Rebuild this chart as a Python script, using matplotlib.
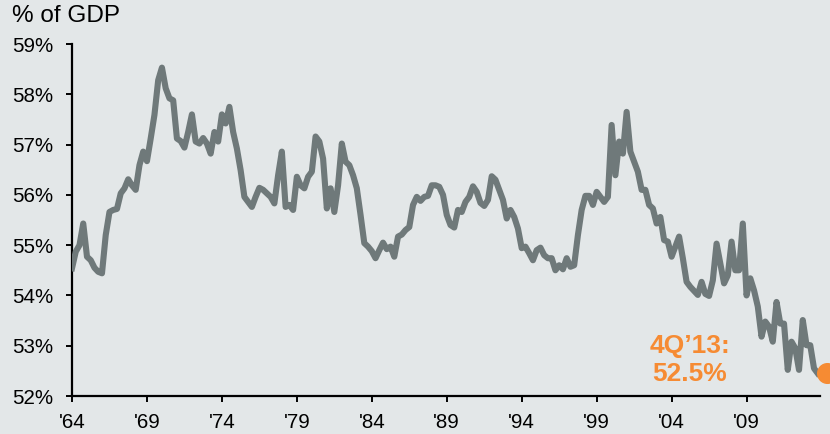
import matplotlib
matplotlib.use("Agg")
import matplotlib.pyplot as plt
import numpy as np

plt.rcParams["font.family"] = ["Liberation Sans", "DejaVu Sans"]

# Government-ish share of GDP, quarterly 1Q64 .. 4Q13
values = [
    54.54, 54.87, 55.00, 55.43,  # 1964
    54.77, 54.70, 54.55, 54.47,
    54.44, 55.20, 55.66, 55.70,
    55.72, 56.03, 56.13, 56.31,
    56.19, 56.10, 56.59, 56.86,
    56.67, 57.12, 57.59, 58.28,  # 1969
    58.53, 58.12, 57.92, 57.88,
    57.12, 57.07, 56.94, 57.25,
    57.60, 57.06, 57.02, 57.13,
    57.02, 56.82, 57.25, 57.06,
    57.60, 57.42, 57.75, 57.25,  # 1974
    56.92, 56.49, 55.96, 55.86,
    55.76, 55.96, 56.14, 56.10,
    56.03, 55.96, 55.83, 56.39,
    56.86, 55.76, 55.80, 55.70,
    56.36, 56.19, 56.13, 56.36,  # 1979
    56.46, 57.16, 57.06, 56.72,
    55.73, 56.13, 55.66, 56.19,
    57.02, 56.66, 56.59, 56.39,
    56.13, 55.60, 55.04, 54.97,
    54.88, 54.74, 54.90, 55.05,  # 1984
    54.92, 54.97, 54.77, 55.17,
    55.21, 55.30, 55.36, 55.80,
    55.96, 55.88, 55.96, 55.98,
    56.19, 56.19, 56.16, 56.00,
    55.60, 55.40, 55.35, 55.70,  # 1989
    55.66, 55.86, 55.96, 56.17,
    56.06, 55.84, 55.78, 55.90,
    56.37, 56.30, 56.10, 55.90,
    55.53, 55.70, 55.56, 55.33,
    54.94, 54.97, 54.84, 54.70,  # 1994
    54.90, 54.95, 54.80, 54.74,
    54.74, 54.50, 54.60, 54.52,
    54.74, 54.57, 54.60, 55.20,
    55.70, 55.98, 55.98, 55.80,
    56.06, 55.96, 55.86, 55.96,  # 1999
    57.39, 56.39, 57.06, 56.82,
    57.65, 56.86, 56.66, 56.46,
    56.10, 56.10, 55.80, 55.73,
    55.43, 55.56, 55.10, 55.07,
    54.77, 54.97, 55.17, 54.74,  # 2004
    54.27, 54.17, 54.09, 54.01,
    54.27, 54.03, 53.99, 54.30,
    55.03, 54.64, 54.24, 54.40,
    55.07, 54.50, 54.50, 55.43,
    54.00, 54.34, 54.10, 53.78,  # 2009
    53.18, 53.48, 53.38, 53.08,
    53.87, 53.44, 53.44, 52.52,
    53.08, 52.95, 52.52, 53.51,
    53.01, 53.01, 52.55, 52.45,
]
dates = 1964 + np.arange(len(values)) / 4

tick_years = [1964, 1969, 1974, 1979, 1984, 1989, 1994, 1999, 2004, 2009]
tick_labels = ["'64", "'69", "'74", "'79", "'84", "'89", "'94", "'99", "'04", "'09"]
y_ticks = [52, 53, 54, 55, 56, 57, 58, 59]

last_label = "4Q\u201913:\n52.5%"

bg = "#e3e7e8"
line_color = "#6f797a"
orange = "#f68b33"

fig = plt.figure(figsize=(8.30, 4.34), dpi=100, facecolor=bg)
ax = fig.add_axes([72 / 830, 1 - 396 / 434, 748 / 830, 352 / 434])
ax.set_facecolor(bg)

ax.plot(dates, values, color=line_color, lw=4.4, solid_joinstyle="round", zorder=3)
ax.scatter(dates[-1] + 0.6, values[-1], s=200, color=orange, zorder=4, clip_on=False)

ax.set_xlim(1964, 2013.9)
ax.set_ylim(52, 59)
ax.set_xticks(tick_years)
ax.set_xticklabels(tick_labels)
ax.set_yticks(y_ticks)
ax.set_yticklabels([f"{v}%" for v in y_ticks])

for side in ["top", "right"]:
    ax.spines[side].set_visible(False)
for side in ["left", "bottom"]:
    ax.spines[side].set_linewidth(1.6)
    ax.spines[side].set_color("black")
ax.tick_params(axis="both", length=4.5, width=1.4, labelsize=14.8, colors="black")
ax.tick_params(axis="y", pad=9)
ax.tick_params(axis="x", pad=8)

ax.text(2005.2, 52.71, last_label, color=orange, fontsize=19, fontweight="bold",
        ha="center", va="center", linespacing=1.2)

fig.text(12 / 830, 1 - 16 / 434, "% of GDP", fontsize=17.5, va="center", ha="left")

fig.savefig("out.png", dpi=100, facecolor=bg)
